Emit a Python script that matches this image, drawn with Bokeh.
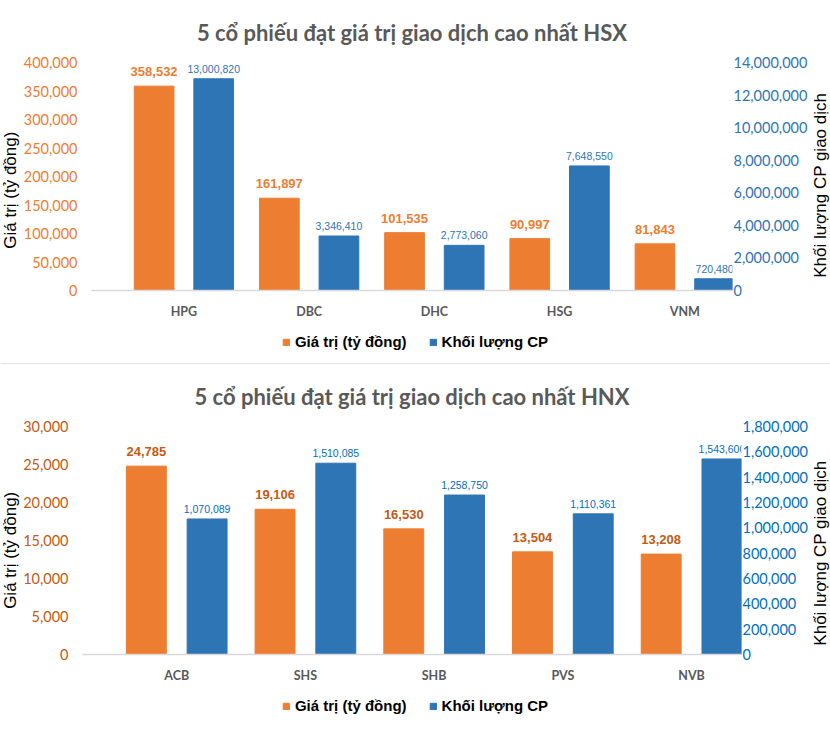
import math
import numpy as np
from bokeh.plotting import figure
from bokeh.models import (Range1d, LinearAxis, FixedTicker, NumeralTickFormatter, Legend,
                          LegendItem, LabelSet, ColumnDataSource, Span, Label)
from bokeh.layouts import column, row
from bokeh.embed import file_html
from bokeh.resources import INLINE
from bokeh.core.properties import value

# ---------------- data ----------------
hsx_title = "5 cổ phiếu đạt giá trị giao dịch cao nhất HSX"
hsx_codes = ["HPG", "DBC", "DHC", "HSG", "VNM"]
hsx_value = [358532, 161897, 101535, 90997, 81843]          # Giá trị (tỷ đồng)
hsx_volume = [13000820, 3346410, 2773060, 7648550, 720480]  # Khối lượng CP

hnx_title = "5 cổ phiếu đạt giá trị giao dịch cao nhất HNX"
hnx_codes = ["ACB", "SHS", "SHB", "PVS", "NVB"]
hnx_value = [24785, 19106, 16530, 13504, 13208]
hnx_volume = [1070089, 1510085, 1258750, 1110361, 1543600]

value_label = "Giá trị (tỷ đồng)"
volume_label = "Khối lượng CP"
left_axis_title = "Giá trị (tỷ đồng)"
right_axis_title = "Khối lượng CP giao dịch"

ORANGE = "#ED7D31"
BLUE = "#2E75B6"
TICK_FONT = "Lato"
LABEL_FONT = "Liberation Sans"
W = 830
SW = 20            # width of the strips holding the rotated axis titles
CW = W - 2 * SW    # chart width


def style_axis(ax):
    ax.axis_line_color = None
    ax.major_tick_line_color = None
    ax.minor_tick_line_color = None
    ax.major_tick_out = 0
    ax.major_tick_in = 0
    ax.minor_tick_out = 0
    ax.minor_tick_in = 0


def make_chart(title, codes, vals, vols, vmax, vstep, volmax, volstep, H,
               borders, xr, bw, off, lcol, rcol, title_standoff):
    top, bottom, left, right = borders
    p = figure(width=CW, height=H, output_backend="svg", toolbar_location=None,
               x_range=Range1d(*xr), y_range=Range1d(0, vmax),
               min_border_top=top, min_border_bottom=bottom,
               min_border_left=left, min_border_right=right,
               outline_line_color=None, background_fill_color="white",
               border_fill_color="white")
    p.extra_y_ranges = {"vol": Range1d(0, volmax)}

    p.title.text = title
    p.title.align = "center"
    p.title.text_font = "Lato"
    p.title.text_font_size = "22px"
    p.title.text_font_style = "bold"
    p.title.text_color = "#595959"
    p.title.standoff = title_standoff

    idx = np.arange(len(codes))
    src = ColumnDataSource(dict(
        xv=idx - off, xo=idx + off, val=vals, vol=vols,
        val_lbl=[f"{v:,}" for v in vals], vol_lbl=[f"{v:,}" for v in vols]))

    p.vbar(x="xv", top="val", width=bw, source=src, fill_color=ORANGE,
           line_color=ORANGE)
    p.vbar(x="xo", top="vol", width=bw, source=src, fill_color=BLUE,
           line_color=BLUE, y_range_name="vol")

    p.add_layout(LabelSet(x="xv", y="val", text="val_lbl", source=src,
                          text_align="center", text_baseline="bottom", y_offset=10,
                          text_font=value(LABEL_FONT), text_font_style="bold",
                          text_font_size="13px", text_color=lcol))
    p.add_layout(LabelSet(x="xo", y="vol", text="vol_lbl", source=src,
                          y_range_name="vol",
                          text_align="center", text_baseline="bottom", y_offset=6,
                          text_font=value(LABEL_FONT), text_font_size="10.5px",
                          text_color=rcol))

    p.xgrid.visible = False
    p.ygrid.visible = False

    xa = p.xaxis[0]
    style_axis(xa)
    xa.ticker = FixedTicker(ticks=list(idx))
    xa.major_label_overrides = {int(i): c for i, c in zip(idx, codes)}
    xa.major_label_text_font = "Lato"
    xa.major_label_text_font_style = "bold"
    xa.major_label_text_font_size = "12.5px"
    xa.major_label_text_color = "#595959"
    xa.axis_line_color = "#D9D9D9"
    xa.axis_line_width = 1.5
    xa.major_label_standoff = 13

    ya = p.yaxis[0]
    style_axis(ya)
    ya.ticker = FixedTicker(ticks=list(range(0, vmax + 1, vstep)))
    ya.formatter = NumeralTickFormatter(format="0,0")
    ya.major_label_text_font = TICK_FONT
    ya.major_label_text_font_size = "14.5px"
    ya.major_label_text_color = lcol
    ya.major_label_standoff = 14

    ra = LinearAxis(y_range_name="vol",
                    ticker=FixedTicker(ticks=list(range(0, volmax + 1, volstep))),
                    formatter=NumeralTickFormatter(format="0,0"))
    style_axis(ra)
    ra.major_label_text_font = TICK_FONT
    ra.major_label_text_font_size = "14.5px"
    ra.major_label_text_color = rcol
    ra.major_label_standoff = 1
    p.add_layout(ra, "right")
    return p


def make_side_title(text, H, center_from_top):
    t = figure(width=SW, height=H, output_backend="svg", toolbar_location=None,
               x_range=Range1d(0, SW), y_range=Range1d(0, H),
               x_axis_location=None, y_axis_location=None,
               min_border=0, outline_line_color=None)
    t.xgrid.visible = False
    t.ygrid.visible = False
    t.add_layout(Label(x=SW / 2, y=H - center_from_top, text=text,
                       angle=math.pi / 2, text_align="center", text_baseline="middle",
                       text_font="Liberation Sans", text_font_size="17px",
                       text_color="black"))
    return t


def make_legend(H, margin, separator):
    q = figure(width=W, height=H, output_backend="svg", toolbar_location=None,
               x_range=Range1d(0, 1), y_range=Range1d(0, H),
               x_axis_location=None, y_axis_location=None,
               min_border=0, outline_line_color=None)
    q.xgrid.visible = False
    q.ygrid.visible = False
    g1 = q.vbar(x=[-5], top=[0], width=0.1, fill_color=ORANGE, line_color=ORANGE)
    g2 = q.vbar(x=[-5], top=[0], width=0.1, fill_color=BLUE, line_color=BLUE)
    legend = Legend(items=[LegendItem(label=value_label, renderers=[g1]),
                           LegendItem(label=volume_label, renderers=[g2])],
                    orientation="horizontal", location="top_center",
                    glyph_width=8, glyph_height=8, label_standoff=5, spacing=22,
                    padding=0, margin=margin, border_line_color=None,
                    background_fill_alpha=0,
                    label_text_font="Liberation Sans", label_text_font_style="bold",
                    label_text_font_size="15px", label_text_color="black")
    q.add_layout(legend)
    if separator:
        q.add_layout(Span(location=0.5, dimension="width", line_color="#D9D9D9",
                          line_width=1.5))
    return q


# HSX chart: frame spans x 88..733, y 60..290 of the page
p1 = make_chart(hsx_title, hsx_codes, hsx_value, hsx_volume,
                400000, 50000, 14000000, 2000000, 325,
                (60, 35, 88 - SW, CW - (733 - SW)), (-0.738, 4.381), 0.317, 0.238,
                ORANGE, BLUE, 33)
tl1 = make_side_title(left_axis_title, 325, 182)
tr1 = make_side_title(right_axis_title, 325, 175)
l1 = make_legend(39, 8, True)

# HNX chart: frame spans x 80..741, y 426..654 of the page
p2 = make_chart(hnx_title, hnx_codes, hnx_value, hnx_volume,
                30000, 5000, 1800000, 200000, 326,
                (62, 36, 80 - SW, CW - (741 - SW)), (-0.732, 4.388), 0.31, 0.236,
                "#C55A11", "#0070C0", 33)
tl2 = make_side_title(left_axis_title, 326, 177)
tr2 = make_side_title(right_axis_title, 326, 181)
l2 = make_legend(64, 7, False)

layout = column(row(tl1, p1, tr1, spacing=0), l1,
                row(tl2, p2, tr2, spacing=0), l2, spacing=0)

open("out.html", "w").write(file_html(layout, INLINE))
